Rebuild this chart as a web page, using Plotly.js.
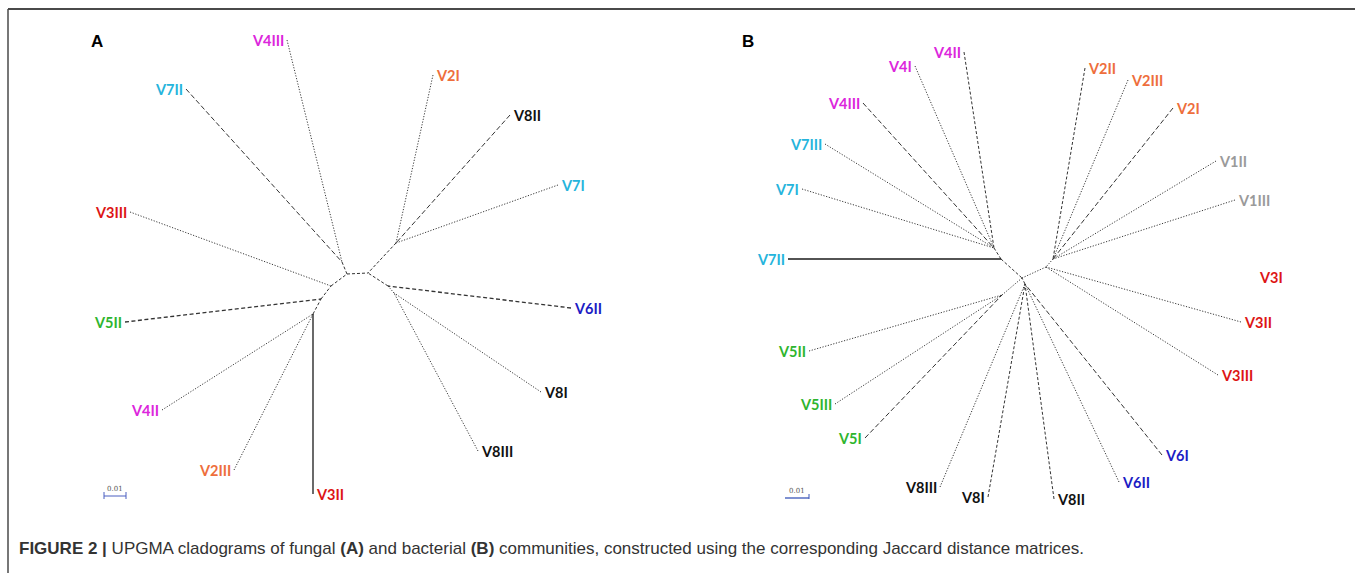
<!DOCTYPE html>
<html><head><meta charset="utf-8">
<script src="https://cdn.plot.ly/plotly-3.0.1.min.js"></script>
<style>html,body{margin:0;padding:0;background:#fff;} #chart{width:1355px;height:573px;}</style>
</head><body><div id="chart"></div>
<script>
// ---------- Panel A: fungal communities (tree layout) ----------
const nodeA = ["n1","n2","n3","n4","n5","n6","n7","n8","n9"];
const nodeAX = [342, 347, 396, 368, 388, 394, 331, 321, 313];
const nodeAY = [262, 274, 243, 273, 286, 293, 286, 299, 314];
const nodeAParent = ["n2", "n4", "n4", "", "n4", "n5", "n2", "n7", "n8"];

const tipA = ["V4III","V7II","V2I","V8II","V7I","V3III","V6II","V5II","V4II","V8I","V8III","V2III","V3II"];
const tipAX = [287, 186, 433, 510, 558, 130, 571, 125, 162, 541, 478, 234, 313];
const tipAY = [40, 89, 75, 115, 185, 212, 308, 322, 410, 392, 451, 470, 494];
const tipAParent = ["n1","n1","n3","n3","n3","n7","n5","n8","n9","n6","n6","n9","n9"];

// ---------- Panel B: bacterial communities ----------
const nodeB = ["L1","L","C","R","R1","D","E"];
const nodeBX = [994, 1001, 1022, 1046, 1053, 1025, 1002];
const nodeBY = [248, 259, 278, 267, 259, 284, 295];
const nodeBParent = ["L", "C", "", "C", "R", "C", "C"];

const tipB = ["V4II","V4I","V4III","V7III","V7I","V7II","V2II","V2III","V2I","V1II","V1III",
              "V3I","V3II","V3III","V6I","V6II","V8II","V8I","V8III","V5I","V5III","V5II"];
const tipBX = [964, 915, 863, 825, 802, 788, 1085, 1128, 1173, 1216, 1235,
               1256, 1241, 1218, 1162, 1119, 1054, 988, 940, 865, 835, 809];
const tipBY = [52, 66, 103, 144, 189, 259, 68, 80, 108, 161, 200,
               277, 322, 375, 455, 482, 499, 497, 487, 438, 404, 351];
const tipBParent = ["L1","L1","L1","L1","L1","L","R1","R1","R1","R1","R1",
                    "","R","R","D","D","D","D","D","E","E","E"];

// ---------- styles ----------
const dashStyles = {
  dot:   {dash: "1.2px,1.6px", color: "#3a3a3a", width: 1},
  dash:  {dash: "3px,2px",   color: "#333", width: 1},
  long:  {dash: "5px,2.5px", color: "#333", width: 1},
  thick: {dash: "4px,2.5px", color: "#333", width: 1.3},
  solid: {dash: "solid",     color: "#1a1a1a", width: 1.3}
};
const branchStyleA = {V4III:"dot",V7II:"long",V2I:"dot",V8II:"long",V7I:"dot",V3III:"dot",V6II:"thick",
  V5II:"thick",V4II:"dot",V8I:"dot",V8III:"dot",V2III:"dot",V3II:"solid",
  n1:"dash",n2:"dash",n3:"dash",n4:"dash",n5:"dash",n6:"dot",n7:"dash",n8:"dash",n9:"dash"};
const branchStyleB = {V4II:"dash",V4I:"dot",V4III:"long",V7III:"dot",V7I:"dot",V7II:"solid",
  V2II:"dash",V2III:"dot",V2I:"long",V1II:"dot",V1III:"dot",V3II:"dot",V3III:"dot",
  V6I:"long",V6II:"dot",V8II:"dash",V8I:"dash",V8III:"dot",V5I:"long",V5III:"dot",V5II:"dot",
  L1:"dash",L:"dash",R:"dot",R1:"dot",D:"dash",E:"dot"};
const groupColor = {V1:"#9a9a9a",V2:"#ee6e3c",V3:"#dd1515",V4:"#dc26dc",V5:"#2eb52e",
                    V6:"#1c1cc4",V7:"#25b4dc",V8:"#111111"};

const traces = [];
const annotations = [];

function buildPanel(nodes, nx, ny, npar, tips, tx, ty, tpar, styleMap) {
  const pos = {};
  nodes.forEach((n,i) => pos[n] = [nx[i], ny[i]]);
  const groups = {};
  function addSeg(style, a, b) {
    if (!groups[style]) groups[style] = {x:[], y:[]};
    groups[style].x.push(a[0], b[0], null);
    groups[style].y.push(a[1], b[1], null);
  }
  nodes.forEach((n,i) => { if (npar[i]) addSeg(styleMap[n], [nx[i], ny[i]], pos[npar[i]]); });
  tips.forEach((t,i) => {
    let dx = 1;
    if (tpar[i]) { addSeg(styleMap[t], [tx[i], ty[i]], pos[tpar[i]]); dx = tx[i] - pos[tpar[i]][0]; }
    const left = dx >= 0;
    annotations.push({
      x: tx[i], y: ty[i], xref: "x", yref: "y", text: t, showarrow: false,
      xanchor: left ? "left" : "right", yanchor: "middle", xshift: left ? 1 : -1,
      font: {family: "Lato, 'DejaVu Sans Condensed', sans-serif", size: 14.5, weight: "bold",
             color: groupColor[t.slice(0,2)]}
    });
  });
  Object.keys(groups).forEach(s => {
    const st = dashStyles[s];
    traces.push({type: "scatter", mode: "lines", x: groups[s].x, y: groups[s].y,
      line: {color: st.color, width: st.width, dash: st.dash}, hoverinfo: "skip", showlegend: false});
  });
}
buildPanel(nodeA, nodeAX, nodeAY, nodeAParent, tipA, tipAX, tipAY, tipAParent, branchStyleA);
buildPanel(nodeB, nodeBX, nodeBY, nodeBParent, tipB, tipBX, tipBY, tipBParent, branchStyleB);

// panel letters
[["A",97,41],["B",748,41]].forEach(p => annotations.push({x:p[1], y:p[2], xref:"x", yref:"y",
  text:"<b>"+p[0]+"</b>", showarrow:false, xanchor:"center", yanchor:"middle",
  font:{family:"'Liberation Sans', Arial, sans-serif", size:17, color:"#000"}}));

// scale bars (0.01)
const scaleLabel = "0.01";
const shapes = [
  {type:"line", xref:"x", yref:"y", x0:8, x1:1355, y0:9, y1:9, line:{color:"#4a4a4a", width:2}},
  {type:"line", xref:"x", yref:"y", x0:8, x1:8, y0:9, y1:573, line:{color:"#4a4a4a", width:1.5}},
  {type:"line", xref:"x", yref:"y", x0:104, x1:126, y0:496, y1:496, line:{color:"#4a5fc0", width:1}},
  {type:"line", xref:"x", yref:"y", x0:104, x1:104, y0:492, y1:499, line:{color:"#4a5fc0", width:1}},
  {type:"line", xref:"x", yref:"y", x0:126, x1:126, y0:492, y1:499, line:{color:"#4a5fc0", width:1}},
  {type:"line", xref:"x", yref:"y", x0:785, x1:809, y0:498, y1:498, line:{color:"#3a55b8", width:1.3}},
  {type:"line", xref:"x", yref:"y", x0:809, x1:809, y0:494, y1:499, line:{color:"#3a55b8", width:1}}
];
[[115,489],[797,491]].forEach(p => annotations.push({x:p[0], y:p[1], xref:"x", yref:"y", text:scaleLabel,
  showarrow:false, xanchor:"center", yanchor:"middle", font:{family:"'DejaVu Serif', serif", size:7, color:"#555"}}));

// caption
annotations.push({x:17, y:548, xref:"x", yref:"y", showarrow:false, xanchor:"left", yanchor:"middle",
  text:"<b>FIGURE 2 |</b> UPGMA cladograms of fungal <b>(A)</b> and bacterial <b>(B)</b> communities, constructed using the corresponding Jaccard distance matrices.",
  font:{family:"'Liberation Sans', Arial, sans-serif", size:17, color:"#333"}});

const layout = {
  width:1355, height:573, margin:{l:0,r:0,t:0,b:0}, paper_bgcolor:"#fff", plot_bgcolor:"#fff",
  xaxis:{range:[0,1355], visible:false, fixedrange:true},
  yaxis:{range:[573,0], visible:false, fixedrange:true},
  shapes: shapes, annotations: annotations, showlegend:false
};
Plotly.newPlot("chart", traces, layout, {staticPlot:true, displayModeBar:false});
</script></body></html>
